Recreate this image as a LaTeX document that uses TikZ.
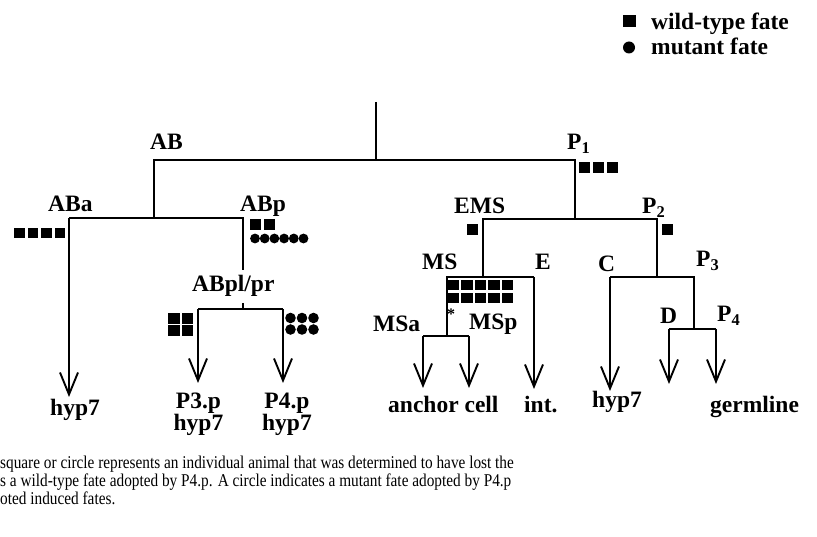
\documentclass[tikz,border=0pt]{standalone}
\usepackage{fontspec}
\setmainfont{Liberation Serif}
\newfontfamily\capfont[FakeStretch=0.85]{Liberation Serif}
\usetikzlibrary{arrows.meta}
\setlength{\lineskiplimit}{-30pt}
\begin{document}
\begin{tikzpicture}[x=1pt,y=-1pt,
  lbl/.style={inner sep=0pt, anchor=base west, font=\fontsize{23.5}{26}\selectfont\bfseries},
  lbl2/.style={inner sep=0pt, anchor=base, align=center, font=\fontsize{23.5}{22.5}\selectfont\bfseries},
  branch/.style={line width=1.9pt},
  arr/.style={branch, -{Straight Barb[length=22pt,width=18pt]}},
  captxt/.style={inner sep=0pt, anchor=base west, font=\capfont\fontsize{18}{18}\selectfont}]
\useasboundingbox (0,0) rectangle (817,537);

% ---------- legend ----------
\fill (623,15.5) rectangle (636,27.5);
\node[lbl] (lgw) at (651,30) {wild-type fate};
\fill (629,47.5) circle (6);
\node[lbl] (lgm) at (651,55) {mutant fate};

% ---------- coordinates of the tree ----------
\coordinate (root) at (376,102);
\coordinate (rootB) at (376,160);
\coordinate (ABt) at (154,160);
\coordinate (P1t) at (575,160);
\coordinate (ABb) at (154,218);
\coordinate (ABat) at (69,218);
\coordinate (ABpt) at (243,218);
\coordinate (ABae) at (69,397);
\coordinate (ABpm) at (243,270);
\coordinate (ABpn) at (243,303);
\coordinate (ABpb) at (243,309);
\coordinate (ABlt) at (198,309);
\coordinate (ABrt) at (283,309);
\coordinate (ABle) at (198,383);
\coordinate (ABre) at (283,383);
\coordinate (P1b) at (575,219);
\coordinate (EMSt) at (483,219);
\coordinate (P2t) at (657,219);
\coordinate (EMSb) at (483,277);
\coordinate (MSt) at (447,277);
\coordinate (Et) at (534,277);
\coordinate (Ee) at (534,389);
\coordinate (MSb) at (447,336);
\coordinate (MSat) at (423,336);
\coordinate (MSpt) at (469,336);
\coordinate (MSae) at (423,388);
\coordinate (MSpe) at (469,388);
\coordinate (P2b) at (657,277);
\coordinate (Ct) at (610,277);
\coordinate (P3t) at (694,277);
\coordinate (Ce) at (610,391);
\coordinate (P3b) at (694,329);
\coordinate (Dt) at (669,329);
\coordinate (P4t) at (716,329);
\coordinate (De) at (669,384);
\coordinate (P4e) at (716,384);

% ---------- tree ----------
\draw[branch] (root) -- (rootB);
\draw[branch] (ABb) -- (ABt) -- (P1t) -- (P1b);
\draw[branch] (ABat) -- (ABpt) -- (ABpm);
\draw[arr] (ABat) -- (ABae);
\draw[branch] (ABpn) -- (ABpb);
\draw[branch] (ABlt) -- (ABrt);
\draw[arr] (ABlt) -- (ABle);
\draw[arr] (ABrt) -- (ABre);
\draw[branch] (EMSb) -- (EMSt) -- (P2t) -- (P2b);
\draw[branch] (MSb) -- (MSt) -- (Et);
\draw[arr] (Et) -- (Ee);
\draw[branch] (MSat) -- (MSpt);
\draw[arr] (MSat) -- (MSae);
\draw[arr] (MSpt) -- (MSpe);
\draw[branch] (Ct) -- (P3t) -- (P3b);
\draw[arr] (Ct) -- (Ce);
\draw[branch] (Dt) -- (P4t);
\draw[arr] (Dt) -- (De);
\draw[arr] (P4t) -- (P4e);

% ---------- labels ----------
\node[lbl] (AB) at (150,150) {AB};
\node[lbl] (P1) at (567,150) {P\textsubscript{1}};
\node[lbl] (ABa) at (48,212) {ABa};
\node[lbl] (ABp) at (240,212) {ABp};
\node[lbl] (EMS) at (454,214) {EMS};
\node[lbl] (P2) at (642,214) {P\textsubscript{2}};
\node[lbl] (MS) at (422,270) {MS};
\node[lbl] (E) at (535,270) {E};
\node[lbl] (C) at (598,272) {C};
\node[lbl] (P3) at (696,267) {P\textsubscript{3}};
\node[lbl] (ABplpr) at (192,292) {ABpl/pr};
\node[lbl] (MSa) at (373,332) {MSa};
\node[lbl] (MSp) at (469,330) {MSp};
\node[lbl] (D) at (660,324) {D};
\node[lbl] (P4) at (717,322) {P\textsubscript{4}};
\node[inner sep=0pt, font=\fontsize{16}{16}\selectfont\bfseries] (ast) at (451,314) {*};

\node[lbl] (hypA) at (50,416) {hyp7};
\node[lbl2] (P3p) at (198.5,431) {P3.p\\hyp7};
\node[lbl2] (P4p) at (287,431) {P4.p\\hyp7};
\node[lbl] (anc) at (388,412) {anchor cell};
\node[lbl] (int) at (524,412) {int.};
\node[lbl] (hypD) at (592,407) {hyp7};
\node[lbl] (germ) at (710,412) {germline};

% ---------- fate markers ----------
% ABa: 4 squares
\foreach \i in {0,...,3} \fill (14+13.5*\i,228) rectangle ++(10.5,10);
% ABp: 2 squares + 6 circles
\foreach \i in {0,1} \fill (250+13.5*\i,219) rectangle ++(11,11);
\foreach \i in {0,...,5} \fill (255+9.7*\i,238.5) circle (4.9);
% P1: 3 squares
\foreach \i in {0,...,2} \fill (579+14*\i,162) rectangle ++(11,11);
% EMS, P2
\fill (467,224) rectangle ++(11,11);
\fill (662,224) rectangle ++(11,11);
% MS: 5x2 squares
\foreach \i in {0,...,4} \foreach \j in {0,1} \fill (448+13.4*\i,280+13*\j) rectangle ++(11.4,10.5);
% ABpl/pr: 2x2 squares, 3x2 circles
\foreach \i in {0,1} \foreach \j in {0,1} \fill (168+13.5*\i,313+12.5*\j) rectangle ++(11.5,11);
\foreach \i in {0,...,2} \foreach \j in {0,1} \fill (290.5+11.5*\i,318+11.5*\j) circle (5.3);

% ---------- caption ----------
\node[captxt] (cap1) at (0,468) {square or circle represents an individual animal that was determined to have lost the};
\node[captxt] (cap2) at (0,486) {s a wild-type fate adopted by P4.p. A circle indicates a mutant fate adopted by P4.p};
\node[captxt] (cap3) at (0,504) {oted induced fates.};
\end{tikzpicture}
\end{document}
